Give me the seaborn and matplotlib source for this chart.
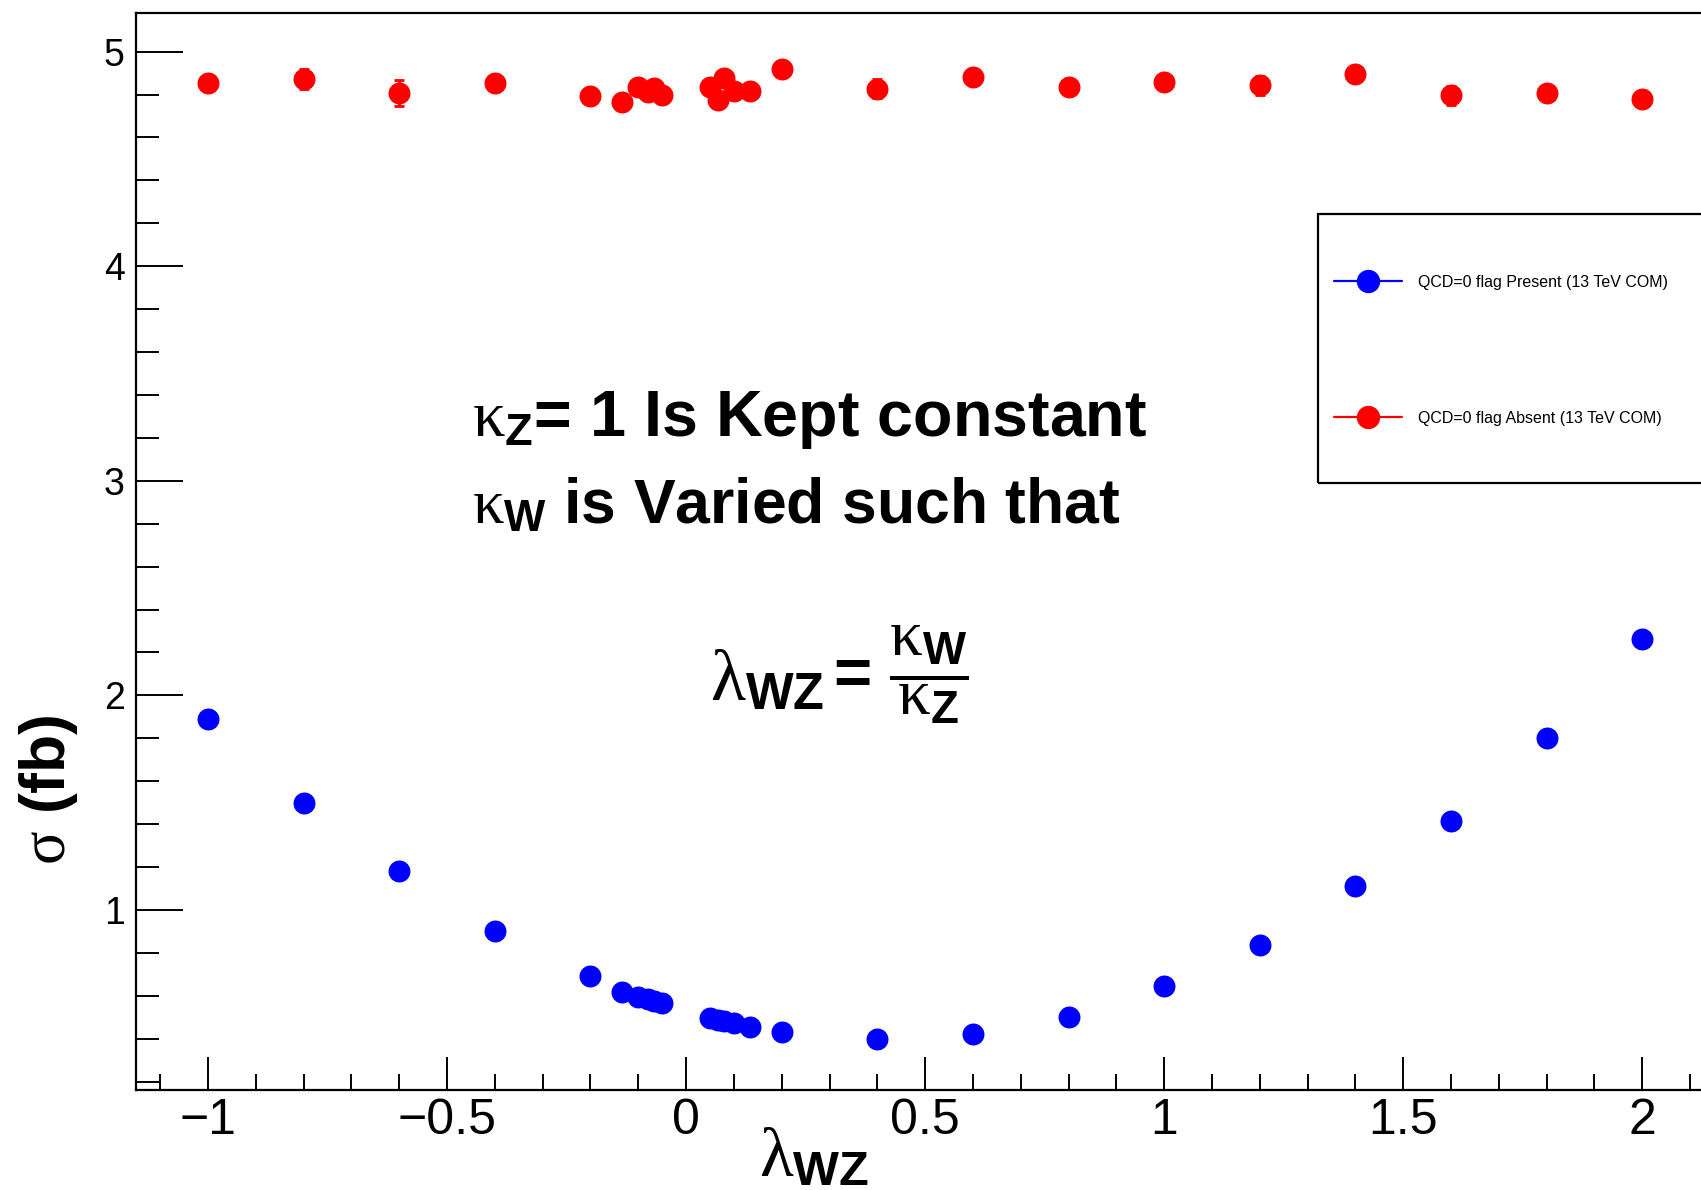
import matplotlib
matplotlib.use("Agg")
import matplotlib.pyplot as plt
from matplotlib.lines import Line2D
from matplotlib.patches import Rectangle
from matplotlib.ticker import MultipleLocator, FuncFormatter
import seaborn as sns

# lambda_WZ = kappa_W / kappa_Z scan points
lam_wz = [-1.0, -0.8, -0.6, -0.4, -0.2, -0.1333, -0.1, -0.08, -0.0667, -0.05,
          0.05, 0.0667, 0.08, 0.1, 0.1333, 0.2, 0.4, 0.6, 0.8, 1.0,
          1.2, 1.4, 1.6, 1.8, 2.0]
# cross section (fb), QCD=0 flag present
xsec_present = [1.89, 1.50, 1.18, 0.90, 0.69, 0.62, 0.594, 0.585, 0.576, 0.567,
                0.497, 0.487, 0.483, 0.473, 0.455, 0.431, 0.398, 0.423, 0.499, 0.645,
                0.837, 1.111, 1.414, 1.803, 2.263]
# cross section (fb), QCD=0 flag absent
xsec_absent = [4.853, 4.873, 4.807, 4.853, 4.795, 4.765, 4.837, 4.814, 4.832, 4.800,
               4.837, 4.775, 4.875, 4.818, 4.818, 4.921, 4.828, 4.883, 4.833, 4.858,
               4.843, 4.898, 4.797, 4.807, 4.777]
err_absent = [0.03, 0.045, 0.06, 0.03, 0.035, 0.03, 0.03, 0.03, 0.03, 0.03,
              0.03, 0.03, 0.03, 0.03, 0.03, 0.035, 0.045, 0.03, 0.03, 0.03,
              0.045, 0.03, 0.045, 0.035, 0.03]

legend_labels = ["QCD=0 flag Present (13 TeV COM)", "QCD=0 flag Absent (13 TeV COM)"]

BLUE = "#0000ff"
RED = "#ff0000"

sns.set_style("ticks")
plt.rcParams['font.family'] = ['Liberation Sans', 'DejaVu Sans']
plt.rcParams['mathtext.fontset'] = 'custom'
plt.rcParams['mathtext.rm'] = 'Liberation Serif'
plt.rcParams['mathtext.it'] = 'Liberation Serif'
plt.rcParams['mathtext.bf'] = 'Liberation Sans:bold'
plt.rcParams['mathtext.sf'] = 'Liberation Sans'
for key in ['text.color', 'axes.labelcolor', 'xtick.color', 'ytick.color', 'axes.edgecolor']:
    plt.rcParams[key] = 'black'

W, H = 1701, 1190
fig = plt.figure(figsize=(W / 100, H / 100), dpi=100, facecolor='white')
# axes frame in pixels: left 136, right ~1714 (off canvas), top 13, bottom 1090
ax = fig.add_axes([136 / W, 100 / H, (1714 - 136) / W, (1090 - 13) / H])

ax.errorbar(lam_wz, xsec_absent, yerr=err_absent, fmt='none', ecolor=RED,
            elinewidth=2, capsize=3.5, capthick=2, zorder=2)
sns.scatterplot(x=lam_wz, y=xsec_absent, color=RED, s=250, linewidth=0,
                ax=ax, zorder=3, legend=False)
sns.scatterplot(x=lam_wz, y=xsec_present, color=BLUE, s=250, linewidth=0,
                ax=ax, zorder=3, legend=False)

ax.set_xlim(-1.1506, 2.15)
ax.set_ylim(0.161, 5.18)
ax.xaxis.set_major_locator(MultipleLocator(0.5))
ax.xaxis.set_minor_locator(MultipleLocator(0.1))
ax.yaxis.set_major_locator(MultipleLocator(1))
ax.yaxis.set_minor_locator(MultipleLocator(0.2))
fmt = FuncFormatter(lambda v, p: ('%g' % round(v, 3)).replace('-', '\u2212'))
ax.xaxis.set_major_formatter(fmt)
ax.yaxis.set_major_formatter(fmt)
ax.tick_params(axis='x', which='major', direction='in', length=24, width=1.4,
               labelsize=36, pad=6, top=False)
ax.tick_params(axis='x', which='minor', direction='in', length=11.5, width=1.4, top=False)
ax.tick_params(axis='y', which='major', direction='in', length=34, width=1.4,
               labelsize=27, pad=8, right=False)
ax.tick_params(axis='y', which='minor', direction='in', length=16.5, width=1.4, right=False)
for side in ['left', 'bottom', 'top']:
    ax.spines[side].set_linewidth(1.6)
ax.spines['right'].set_visible(False)
ax.set_xlabel('')
ax.set_ylabel('')

# axis titles
fig.text(48 / W, 1 - 790 / H, r'$\sigma$ (fb)', rotation=90, fontsize=45,
         fontweight='bold', ha='center', va='center')
fig.text(814 / W, 1 - 1158 / H, r'$\lambda_{\mathbf{WZ}}$', fontsize=50,
         ha='center', va='center')

# annotation
ax.text(-0.448, 3.21, r'$\kappa_{\mathbf{Z}}$= 1 Is Kept constant', fontsize=46.5,
        fontweight='bold', ha='left', va='baseline')
ax.text(-0.448, 2.804, r'$\kappa_{\mathbf{W}}$ is Varied such that', fontsize=45,
        fontweight='bold', ha='left', va='baseline')
ax.text(0.05, 1.979, r'$\lambda_{\mathbf{WZ}}$', fontsize=52, ha='left', va='baseline')
ax.text(0.3075, 2.096, r'= $\dfrac{\kappa_{\mathbf{W}}}{\kappa_{\mathbf{Z}}}$', fontsize=47,
        fontweight='bold', ha='left', va='center')

# legend: frame drawn as a box, entries placed by the legend
fig.add_artist(Rectangle((1318 / W, 1 - 483 / H), 0.3, (483 - 214) / H,
                         transform=fig.transFigure, fill=False, lw=1.6,
                         ec='black', clip_on=False))
handles = [Line2D([], [], color=BLUE, marker='o', markersize=15.8, lw=1.6),
           Line2D([], [], color=RED, marker='o', markersize=15.8, lw=1.6)]
ax.legend(handles, legend_labels, loc='upper left',
          bbox_to_anchor=(1334 / W, 1 - 275 / H), bbox_transform=fig.transFigure,
          fontsize=11.5, frameon=False, borderpad=0, borderaxespad=0,
          handlelength=4.25, handletextpad=1.0, labelspacing=7.55)

fig.savefig('out.png', dpi=100, facecolor='white')
